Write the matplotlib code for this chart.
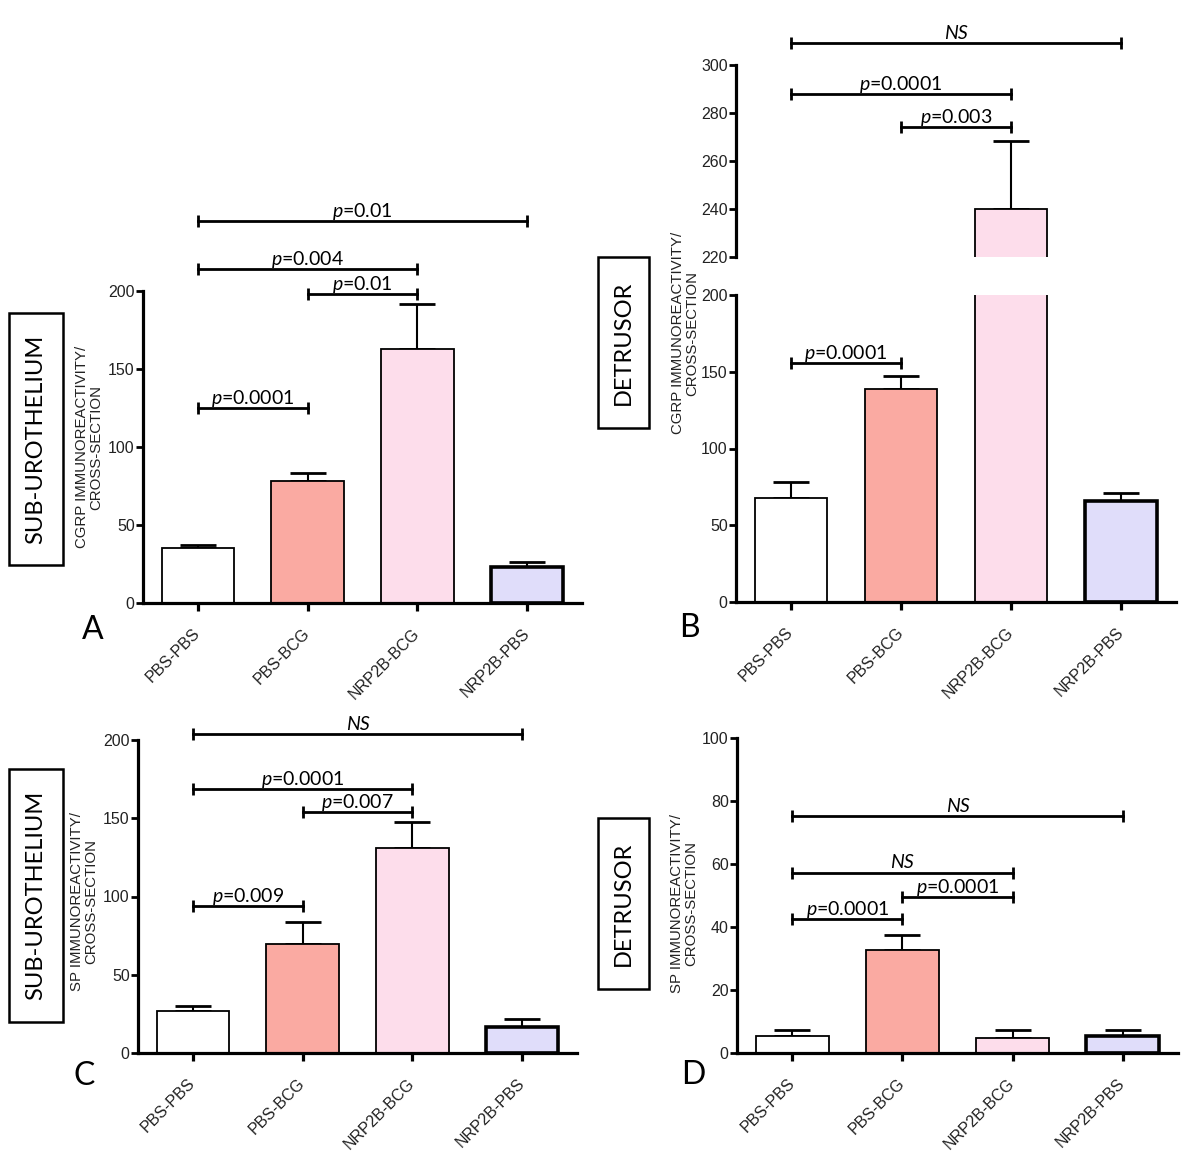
import matplotlib
matplotlib.use('Agg')
import matplotlib.pyplot as plt
import matplotlib.patches as patches

groups = ['PBS-PBS', 'PBS-BCG', 'NRP2B-BCG', 'NRP2B-PBS']
bar_colors = ['#FFFFFF', '#FAAAA2', '#FDDDEB', '#E0DDFA']

# CGRP, sub-urothelium (A)
cgrp_sub_means = [35.4, 78.2, 162.5, 22.8]
cgrp_sub_errs = [1.7, 5.3, 29.2, 3.8]
cgrp_sub_pvals = [(0, 3, 245, 'p=0.01'), (0, 2, 214, 'p=0.004'),
                  (1, 2, 198, 'p=0.01'), (0, 1, 125, 'p=0.0001')]

# CGRP, detrusor (B) - broken axis
cgrp_det_means = [68, 139, 240, 65.6]
cgrp_det_errs = [10, 8, 28.3, 5.6]
cgrp_det_pvals_hi = [(0, 3, 309, 'NS'), (0, 2, 288, 'p=0.0001'), (1, 2, 274, 'p=0.003')]
cgrp_det_pvals_lo = [(0, 1, 155.6, 'p=0.0001')]

# SP, sub-urothelium (C)
sp_sub_means = [27.1, 69.4, 131.3, 16.9]
sp_sub_errs = [3.2, 14.3, 16.4, 4.7]
sp_sub_pvals = [(0, 3, 203.6, 'NS'), (0, 2, 168.8, 'p=0.0001'),
                (1, 2, 153.9, 'p=0.007'), (0, 1, 93.7, 'p=0.009')]

# SP, detrusor (D)
sp_det_means = [5.3, 32.7, 4.7, 5.3]
sp_det_errs = [1.9, 4.9, 2.7, 1.9]
sp_det_pvals = [(0, 3, 75.3, 'NS'), (0, 2, 57.3, 'NS'),
                (1, 2, 49.5, 'p=0.0001'), (0, 1, 42.6, 'p=0.0001')]

W, H = 1200, 1151
TICK_FONT = 'Liberation Sans'
NOTE_FONT = 'Lato'


def fx(x):
    return x / W


def fy(y):
    return 1 - y / H


def add_axes_px(fig, left, top, right, bottom):
    return fig.add_axes([fx(left), fy(bottom), (right - left) / W, (bottom - top) / H])


def style_axes(ax, yticks, show_x=True):
    ax.spines['top'].set_visible(False)
    ax.spines['right'].set_visible(False)
    ax.spines['left'].set_linewidth(2.3)
    ax.spines['bottom'].set_linewidth(2.3)
    ax.set_xlim(-0.5, 3.5)
    ax.set_yticks(yticks)
    ax.tick_params(axis='y', direction='out', length=5, width=2, pad=1,
                   labelsize=11.5, labelcolor='#222222')
    for lab in ax.get_yticklabels():
        lab.set_family(TICK_FONT)
    if show_x:
        ax.set_xticks(range(len(groups)))
        ax.set_xticklabels(groups, rotation=45, ha='right', va='center',
                           rotation_mode='anchor', family=TICK_FONT,
                           fontsize=11.5, color='#222222')
        ax.tick_params(axis='x', direction='out', length=6, width=2.3, pad=14)
    else:
        ax.spines['bottom'].set_visible(False)
        ax.set_xticks([])


def draw_bars(ax, means, errs):
    x = range(len(groups))
    ax.bar(x, means, width=0.66, color=bar_colors, edgecolor='black',
           linewidth=[1.3, 1.3, 1.3, 2.6], zorder=2)
    ax.errorbar(x, means, yerr=[[0] * len(errs), errs], fmt='none', ecolor='black',
                elinewidth=1.5, capsize=13, capthick=2, zorder=1)


def draw_brackets(ax, pvals):
    for i, j, y, label in pvals:
        ax.plot([i, j], [y, y], color='black', lw=2, marker='|', markersize=9,
                mew=2, clip_on=False, zorder=3)
        if label == 'NS':
            txt, style = 'NS', 'italic'
        else:
            txt, style = '$p$' + label[1:], 'normal'
        ax.annotate(txt, xy=((i + j) / 2, y), xytext=(0, 3), textcoords='offset points',
                    ha='center', va='baseline', fontsize=14, family=NOTE_FONT,
                    style=style, annotation_clip=False)


def box_label(fig, left, top, right, bottom, text):
    rect = patches.Rectangle((fx(left), fy(bottom)), (right - left) / W, (bottom - top) / H,
                             transform=fig.transFigure, fill=False, lw=1.8, edgecolor='black')
    fig.add_artist(rect)
    fig.text(fx((left + right) / 2), fy((top + bottom) / 2), text, rotation=90,
             ha='center', va='center', fontsize=17, family=NOTE_FONT)


def y_title(fig, x, y, text):
    fig.text(fx(x), fy(y), text, rotation=90, ha='center', va='center',
             multialignment='center', fontsize=10.8, family=TICK_FONT,
             linespacing=1.0, color='#222222')


def main():
    plt.rcParams['mathtext.fontset'] = 'custom'
    plt.rcParams['mathtext.it'] = 'Lato:italic'
    plt.rcParams['mathtext.rm'] = 'Lato'

    fig = plt.figure(figsize=(12, 11.51), dpi=100)

    # A
    ax_a = add_axes_px(fig, 143, 291, 582, 603)
    draw_bars(ax_a, cgrp_sub_means, cgrp_sub_errs)
    ax_a.set_ylim(0, 200)
    style_axes(ax_a, [0, 50, 100, 150, 200])
    draw_brackets(ax_a, cgrp_sub_pvals)

    # B (broken axis)
    ax_b_lo = add_axes_px(fig, 736, 295, 1176, 602)
    draw_bars(ax_b_lo, cgrp_det_means, cgrp_det_errs)
    ax_b_lo.set_ylim(0, 200)
    style_axes(ax_b_lo, [0, 50, 100, 150, 200])
    draw_brackets(ax_b_lo, cgrp_det_pvals_lo)

    ax_b_hi = add_axes_px(fig, 736, 65, 1176, 257)
    draw_bars(ax_b_hi, cgrp_det_means, cgrp_det_errs)
    ax_b_hi.set_ylim(220, 300)
    style_axes(ax_b_hi, [220, 240, 260, 280, 300], show_x=False)
    draw_brackets(ax_b_hi, cgrp_det_pvals_hi)

    # C
    ax_c = add_axes_px(fig, 138, 740, 577, 1053)
    draw_bars(ax_c, sp_sub_means, sp_sub_errs)
    ax_c.set_ylim(0, 200)
    style_axes(ax_c, [0, 50, 100, 150, 200])
    draw_brackets(ax_c, sp_sub_pvals)

    # D
    ax_d = add_axes_px(fig, 737, 738, 1178, 1053)
    draw_bars(ax_d, sp_det_means, sp_det_errs)
    ax_d.set_ylim(0, 100)
    style_axes(ax_d, [0, 20, 40, 60, 80, 100])
    draw_brackets(ax_d, sp_det_pvals)

    # y titles
    y_title(fig, 89, 447, 'CGRP IMMUNOREACTIVITY/\nCROSS-SECTION')
    y_title(fig, 685, 333, 'CGRP IMMUNOREACTIVITY/\nCROSS-SECTION')
    y_title(fig, 84, 902, 'SP IMMUNOREACTIVITY/\nCROSS-SECTION')
    y_title(fig, 684, 904, 'SP IMMUNOREACTIVITY/\nCROSS-SECTION')

    # boxed region labels
    box_label(fig, 9, 313, 63, 565, 'SUB-UROTHELIUM')
    box_label(fig, 598, 257, 649, 428, 'DETRUSOR')
    box_label(fig, 9, 769, 63, 1022, 'SUB-UROTHELIUM')
    box_label(fig, 598, 818, 649, 989, 'DETRUSOR')

    # panel letters
    for letter, x, y in [('A', 93, 630), ('B', 689, 628), ('C', 84, 1076), ('D', 693, 1075)]:
        fig.text(fx(x), fy(y), letter, ha='center', va='center', fontsize=23, family=NOTE_FONT)

    fig.savefig('out.png', dpi=100)


if __name__ == '__main__':
    main()
